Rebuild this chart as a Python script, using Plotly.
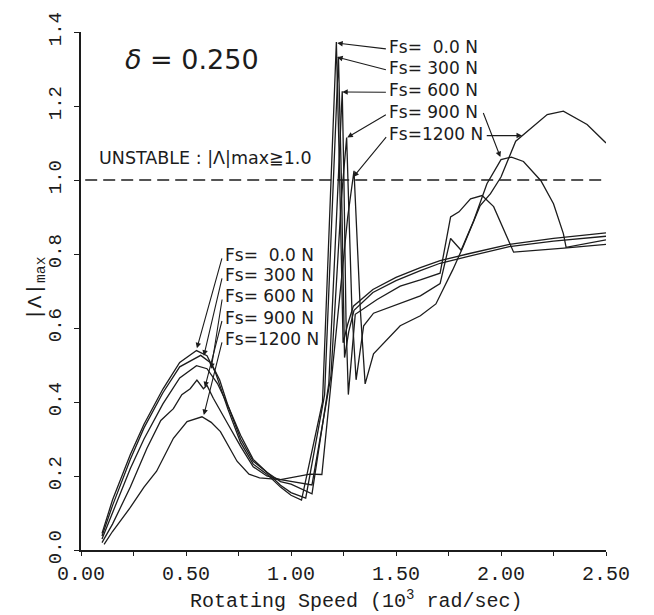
import plotly.graph_objects as go

# ---- data ----
x_0 = [0.10, 0.15, 0.235, 0.30, 0.39, 0.47, 0.55, 0.60, 0.64, 0.70, 0.76, 0.82, 0.885, 0.95, 1.00, 1.05,
       1.15, 1.195, 1.216, 1.232, 1.248, 1.27, 1.297, 1.39, 1.50, 1.616, 1.71, 1.84, 2.04, 2.25, 2.50]
y_0 = [0.045, 0.135, 0.258, 0.34, 0.435, 0.507, 0.539, 0.525, 0.48, 0.38, 0.29, 0.232, 0.205, 0.17, 0.148, 0.135,
       0.40, 1.05, 1.373, 1.0, 0.56, 0.61, 0.659, 0.704, 0.737, 0.763, 0.782, 0.80, 0.826, 0.842, 0.857]

x_300 = [0.10, 0.15, 0.235, 0.30, 0.39, 0.47, 0.57, 0.62, 0.66, 0.70, 0.76, 0.82, 0.885, 0.95, 1.00, 1.07,
         1.16, 1.205, 1.226, 1.24, 1.255, 1.275, 1.30, 1.39, 1.50, 1.616, 1.71, 1.84, 2.04, 2.25, 2.50]
y_300 = [0.038, 0.12, 0.245, 0.33, 0.425, 0.495, 0.526, 0.505, 0.46, 0.39, 0.30, 0.24, 0.21, 0.175, 0.155, 0.14,
         0.42, 1.05, 1.333, 1.0, 0.52, 0.59, 0.648, 0.696, 0.728, 0.755, 0.775, 0.793, 0.82, 0.835, 0.848]

x_600 = [0.10, 0.15, 0.235, 0.30, 0.39, 0.47, 0.55, 0.60, 0.65, 0.70, 0.76, 0.82, 0.885, 0.95, 1.00, 1.10,
         1.18, 1.225, 1.244, 1.252, 1.262, 1.273, 1.306, 1.41, 1.52, 1.616, 1.71, 1.76, 1.80, 1.855, 1.91,
         1.965, 2.00, 2.035, 2.06, 2.30, 2.50]
y_600 = [0.03, 0.10, 0.22, 0.30, 0.395, 0.465, 0.498, 0.49, 0.45, 0.39, 0.31, 0.245, 0.21, 0.185, 0.178, 0.152,
         0.45, 1.0, 1.24, 1.0, 0.62, 0.42, 0.637, 0.677, 0.713, 0.73, 0.748, 0.90, 0.914, 0.949, 0.958,
         0.928, 0.882, 0.834, 0.805, 0.816, 0.826]

x_900 = [0.10, 0.15, 0.235, 0.314, 0.38, 0.44, 0.48, 0.52, 0.552, 0.583, 0.60, 0.63, 0.70, 0.76, 0.82, 0.885,
         0.95, 1.00, 1.10, 1.19, 1.24, 1.265, 1.275, 1.29, 1.31, 1.346, 1.393, 1.52, 1.616, 1.71, 1.76, 1.81,
         1.87, 1.933, 2.00, 2.05, 2.107, 2.19, 2.25, 2.297, 2.31, 2.50]
y_900 = [0.02, 0.07, 0.17, 0.275, 0.35, 0.382, 0.42, 0.436, 0.459, 0.436, 0.445, 0.41, 0.34, 0.28, 0.225, 0.20,
         0.19, 0.185, 0.176, 0.47, 0.95, 1.115, 0.95, 0.65, 0.46, 0.606, 0.64, 0.668, 0.687, 0.72, 0.842, 0.81,
         0.89, 0.99, 1.055, 1.062, 1.05, 0.998, 0.936, 0.855, 0.818, 0.838]

x_1200 = [0.11, 0.15, 0.235, 0.30, 0.36, 0.44, 0.505, 0.576, 0.62, 0.664, 0.743, 0.80, 0.85, 0.95, 1.09, 1.147,
          1.21, 1.27, 1.30, 1.315, 1.33, 1.353, 1.393, 1.52, 1.616, 1.69, 1.77, 1.82, 1.90, 1.95, 2.00, 2.07,
          2.107, 2.22, 2.297, 2.41, 2.50]
y_1200 = [0.015, 0.05, 0.115, 0.17, 0.213, 0.302, 0.347, 0.36, 0.345, 0.32, 0.24, 0.205, 0.195, 0.19, 0.205, 0.204,
          0.56, 0.90, 1.025, 0.85, 0.65, 0.449, 0.53, 0.606, 0.633, 0.665, 0.757, 0.82, 0.93, 0.963, 1.008, 1.105,
          1.123, 1.177, 1.186, 1.15, 1.10]

series_names = ["Fs=  0.0 N", "Fs= 300 N", "Fs= 600 N", "Fs= 900 N", "Fs=1200 N"]
series_x = [x_0, x_300, x_600, x_900, x_1200]
series_y = [y_0, y_300, y_600, y_900, y_1200]

x_ticks = [0.0, 0.5, 1.0, 1.5, 2.0, 2.5]
x_ticklabels = ["0.00", "0.50", "1.00", "1.50", "2.00", "2.50"]
y_ticks = [0.0, 0.2, 0.4, 0.6, 0.8, 1.0, 1.2, 1.4]
y_ticklabels = ["0.0", "0.2", "0.4", "0.6", "0.8", "1.0", "1.2", "1.4"]

stability_limit = 1.0
delta_value = 0.250

# label positions (data coords) and arrow tips
top_label_x = 1.459
top_label_y = [1.359, 1.302, 1.242, 1.184, 1.125]
top_tips = [(1.22, 1.37), (1.22, 1.332), (1.244, 1.238), (1.268, 1.115), (1.297, 1.008)]
left_label_x = 0.678
left_label_y = [0.797, 0.743, 0.686, 0.628, 0.570]
left_tips = [(0.552, 0.545), (0.585, 0.525), (0.62, 0.49), (0.59, 0.44), (0.585, 0.365)]

INK = "#1c1c1c"
TICKFONT = "Liberation Mono, Courier New, monospace"
LABELFONT = "DejaVu Sans, Liberation Sans, sans-serif"

fig = go.Figure()
for name, xs, ys in zip(series_names, series_x, series_y):
    fig.add_trace(go.Scatter(x=xs, y=ys, mode="lines", name=name,
                             line=dict(color=INK, width=1.3), showlegend=False))

fig.add_shape(type="line", xref="x", yref="y", x0=0.02, x1=2.5, y0=stability_limit, y1=stability_limit,
              line=dict(color=INK, width=1.4, dash="12px,6px"))

ann = []
# top label group
for name, ly, (tx, ty) in zip(series_names, top_label_y, top_tips):
    ann.append(dict(x=top_label_x, y=ly, xref="x", yref="y", text=name.replace(" ", "&nbsp;"),
                    showarrow=False, xanchor="left", yanchor="middle",
                    font=dict(family=LABELFONT, size=17, color=INK)))
    ann.append(dict(x=tx, y=ty, xref="x", yref="y", ax=top_label_x, ay=ly - 0.005, axref="x", ayref="y",
                    text="", showarrow=True, arrowhead=2, arrowsize=1, arrowwidth=1.1, arrowcolor=INK))
# extra arrows from the 900 N and 1200 N labels to second humps
ann.append(dict(x=1.997, y=1.062, xref="x", yref="y", ax=1.913, ay=1.185, axref="x", ayref="y",
                text="", showarrow=True, arrowhead=2, arrowsize=1, arrowwidth=1.1, arrowcolor=INK))
ann.append(dict(x=2.10, y=1.12, xref="x", yref="y", ax=1.925, ay=1.12, axref="x", ayref="y",
                text="", showarrow=True, arrowhead=2, arrowsize=1, arrowwidth=1.1, arrowcolor=INK))
# left label group
for name, ly, (tx, ty) in zip(series_names, left_label_y, left_tips):
    ann.append(dict(x=left_label_x, y=ly, xref="x", yref="y", text=name.replace(" ", "&nbsp;"),
                    showarrow=False, xanchor="left", yanchor="middle",
                    font=dict(family=LABELFONT, size=17, color=INK)))
    ann.append(dict(x=tx, y=ty, xref="x", yref="y", ax=left_label_x - 0.005, ay=ly - 0.005, axref="x", ayref="y",
                    text="", showarrow=True, arrowhead=2, arrowsize=1, arrowwidth=1.1, arrowcolor=INK))

ann.append(dict(x=0.53, y=1.325, xref="x", yref="y", text="<i>δ</i> = %.3f" % delta_value,
                showarrow=False, xanchor="center", yanchor="middle",
                font=dict(family=LABELFONT, size=27, color=INK)))
ann.append(dict(x=0.075, y=1.059, xref="x", yref="y", text="UNSTABLE : |Λ|max≧%.1f" % stability_limit,
                showarrow=False, xanchor="left", yanchor="middle",
                font=dict(family=LABELFONT, size=17.5, color=INK)))
# axis titles
ann.append(dict(x=0.524, y=-0.096, xref="paper", yref="paper",
                text="Rotating Speed (10<sup>3</sup> rad/sec)", showarrow=False,
                xanchor="center", yanchor="middle", font=dict(family=TICKFONT, size=20, color=INK)))
ann.append(dict(x=-0.085, y=0.505, xref="paper", yref="paper", text="|Λ|<sub>max</sub>", textangle=-90,
                showarrow=False, xanchor="center", yanchor="middle",
                font=dict(family=TICKFONT, size=21, color=INK)))

fig.update_layout(
    width=654, height=615,
    margin=dict(l=81, r=48, t=27, b=65),
    paper_bgcolor="white", plot_bgcolor="white",
    annotations=ann,
    xaxis=dict(range=[0, 2.5], tickmode="array", tickvals=x_ticks, ticktext=x_ticklabels,
               showgrid=False, zeroline=False, showline=True, linecolor=INK, linewidth=1.6,
               ticks="outside", ticklen=4, tickwidth=1.3, tickcolor=INK,
               tickfont=dict(family=TICKFONT, size=20, color=INK),
               minor=dict(tickvals=[0.25, 0.75, 1.25, 1.75, 2.25], ticks="outside", ticklen=4,
                          tickwidth=1.2, tickcolor=INK)),
    yaxis=dict(range=[0, 1.4], tickmode="array", tickvals=y_ticks, ticktext=y_ticklabels,
               showgrid=False, zeroline=False, showline=True, linecolor=INK, linewidth=1.6,
               ticks="outside", ticklen=5, tickwidth=1.3, tickcolor=INK, tickangle=-90,
               ticklabelstandoff=6,
               tickfont=dict(family=TICKFONT, size=19, color=INK)),
)

fig.write_html("out.html", config={"displayModeBar": False})
